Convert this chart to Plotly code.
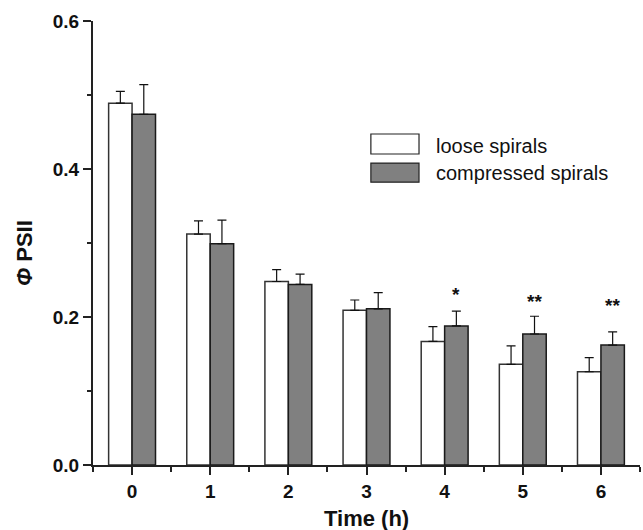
import plotly.graph_objects as go

# ---- data ----
times = [0, 1, 2, 3, 4, 5, 6]
loose_mean = [0.489, 0.312, 0.248, 0.209, 0.167, 0.136, 0.126]
loose_err = [0.016, 0.018, 0.016, 0.014, 0.020, 0.025, 0.019]
comp_mean = [0.474, 0.299, 0.244, 0.211, 0.188, 0.177, 0.162]
comp_err = [0.040, 0.032, 0.014, 0.022, 0.020, 0.024, 0.018]
sig_labels = ["", "", "", "", "*", "**", "**"]
sig_y = [None, None, None, None, 0.233, 0.223, 0.218]
series_names = ["loose spirals", "compressed spirals"]
y_ticks = [0.0, 0.2, 0.4, 0.6]

FONT = "Liberation Sans, Arial, Helvetica, sans-serif"
AX = "#222222"

fig = go.Figure()
fig.add_trace(go.Bar(
    x=times, y=loose_mean, name=series_names[0],
    marker=dict(color="white", line=dict(color="#333333", width=1.5)),
    error_y=dict(type="data", symmetric=False, array=loose_err,
                 arrayminus=[0] * len(times), color="#111111", thickness=1.2, width=4.5),
    showlegend=False,
))
fig.add_trace(go.Bar(
    x=times, y=comp_mean, name=series_names[1],
    marker=dict(color="#808080", line=dict(color="#1a1a1a", width=1.5)),
    error_y=dict(type="data", symmetric=False, array=comp_err,
                 arrayminus=[0] * len(times), color="#111111", thickness=1.2, width=4.5),
    showlegend=False,
))

annotations = []
for t, lab, yy in zip(times, sig_labels, sig_y):
    if lab:
        annotations.append(dict(
            x=t + 0.15, y=yy, xref="x", yref="y", text=f"<b>{lab}</b>",
            showarrow=False, xanchor="center", yanchor="middle", yshift=-2,
            font=dict(family=FONT, size=19, color="#111111"),
        ))

# custom legend (large swatches)
leg_x0, leg_x1, text_x = 0.508, 0.596, 0.6234
leg_rows = [(0.7455, 0.7005, 0.7185, "white"), (0.680, 0.637, 0.6577, "#808080")]
shapes = []
for (ytop, ybot, ytext, col), name in zip(leg_rows, series_names):
    shapes.append(dict(type="rect", xref="paper", yref="paper",
                       x0=leg_x0, x1=leg_x1, y0=ybot, y1=ytop,
                       fillcolor=col, line=dict(color="#222222", width=1.2)))
    annotations.append(dict(x=text_x, y=ytext, xref="paper", yref="paper",
                            text=name, showarrow=False, xanchor="left", yanchor="middle",
                            font=dict(family=FONT, size=20, color="#111111")))

# axis titles as annotations
annotations.append(dict(x=0, y=0.4775, xref="paper", yref="paper", xshift=-68,
                        text="<b><i>Φ</i> PSII</b>", textangle=-90, showarrow=False,
                        xanchor="center", yanchor="middle",
                        font=dict(family=FONT, size=22, color="#111111")))
annotations.append(dict(x=0.5, y=0, xref="paper", yref="paper", yshift=-53,
                        text="<b>Time (h)</b>", showarrow=False,
                        xanchor="center", yanchor="middle",
                        font=dict(family=FONT, size=22, color="#111111")))

fig.update_layout(
    width=643, height=530,
    margin=dict(l=93, r=3, t=21, b=65),
    paper_bgcolor="white", plot_bgcolor="white",
    barmode="group", bargap=0.4, bargroupgap=0,
    font=dict(family=FONT, color="#111111"),
    shapes=shapes, annotations=annotations,
)
fig.update_xaxes(
    range=[-0.5, 6.5], tickmode="array", tickvals=times,
    ticktext=[f"<b>{t}</b>" for t in times],
    ticks="outside", ticklen=8, tickwidth=2, tickcolor=AX,
    minor=dict(tick0=0.5, dtick=1, ticks="outside", ticklen=5, tickwidth=1.5, tickcolor=AX),
    showline=True, linecolor=AX, linewidth=2, showgrid=False, zeroline=False,
    tickfont=dict(family=FONT, size=19, color="#111111"),
    automargin=False,
)
fig.update_yaxes(
    range=[0, 0.6], tickmode="array", tickvals=y_ticks,
    ticktext=[f"<b>{v:.1f}</b>" for v in y_ticks],
    ticks="outside", ticklen=8, tickwidth=2, tickcolor=AX,
    minor=dict(tick0=0, dtick=0.1, ticks="outside", ticklen=4, tickwidth=1.5, tickcolor=AX),
    showline=True, linecolor=AX, linewidth=2, showgrid=False, zeroline=False,
    tickfont=dict(family=FONT, size=19, color="#111111"),
    automargin=False,
)

fig.write_html(
    "out.html",
    config={"displayModeBar": False},
    post_script="document.body.style.margin='0px';document.body.style.overflow='hidden';",
)
